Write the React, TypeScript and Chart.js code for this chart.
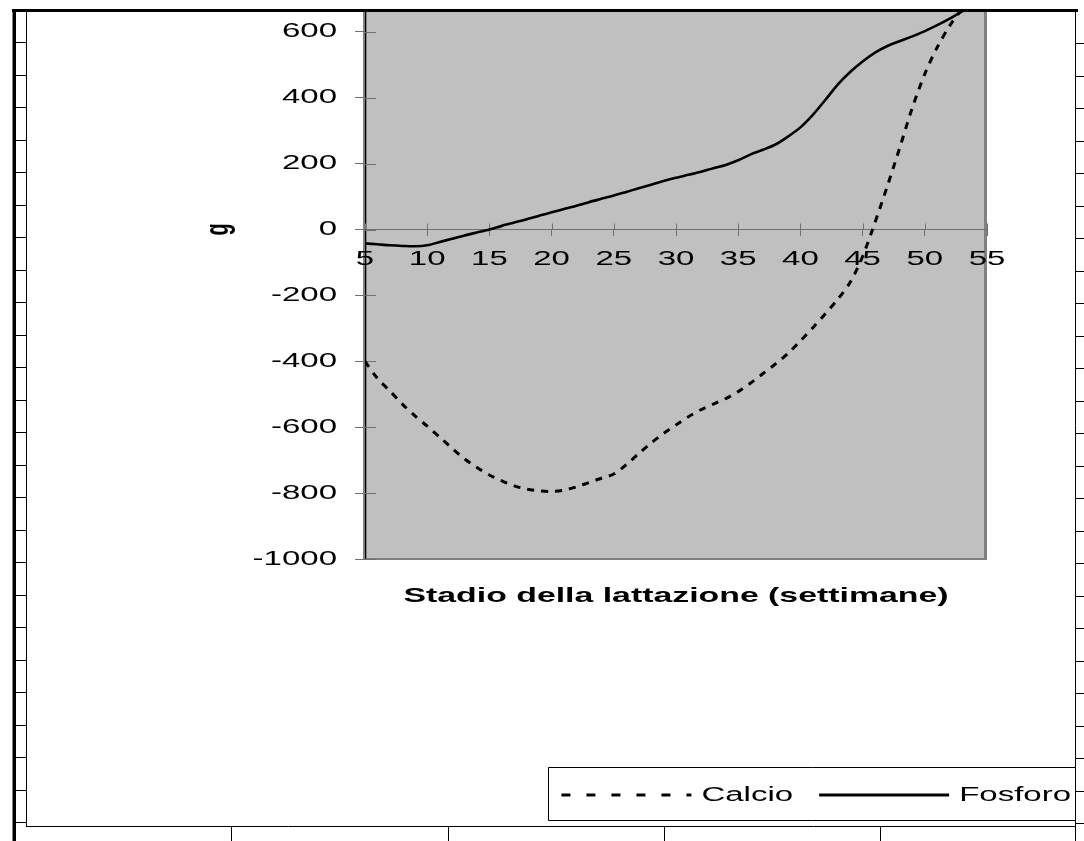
import React, { useEffect, useRef } from "react";
import { Chart, registerables } from "chart.js";

Chart.register(...registerables);

// ---- data (weeks of lactation, grams) ----
const WEEKS = [5, 6, 7, 8, 9, 10, 11, 12, 13, 14, 15, 16, 17, 18, 19, 20, 21, 22, 23, 24, 25, 26, 27, 28, 29, 30, 31, 32, 33, 34, 35, 36, 37, 38, 39, 40, 41, 42, 43, 44, 45, 46, 47, 48, 49, 50, 51, 52, 53, 54, 55];
const CALCIO = [-400, -452, -490, -530, -565, -597, -630, -664, -696, -722, -745, -763, -778, -788, -793, -795, -791, -781, -768, -755, -742, -714, -680, -648, -619, -593, -568, -547, -530, -513, -492, -466, -437, -408, -376, -338, -298, -256, -212, -160, -82, 22, 133, 250, 370, 472, 553, 618, 670, 718, 762];
const FOSFORO = [-42, -45, -48, -50, -51, -48, -38, -28, -18, -9, 0, 11, 21, 31, 42, 52, 62, 72, 83, 93, 103, 114, 125, 136, 147, 157, 166, 175, 186, 196, 210, 228, 242, 258, 282, 310, 348, 393, 440, 478, 510, 537, 557, 572, 586, 602, 620, 640, 662, 685, 708];
const SERIES_NAMES = ["Calcio", "Fosforo"];
const X_MIN = 5;
const X_MAX = 55;
const X_STEP = 5;
const Y_MIN = -1000;
const Y_MAX = 1000;
const Y_STEP = 200;
const X_TITLE = "Stadio della lattazione (settimane)";
const Y_TITLE = "g";

// ---- layout constants ----
const CANVAS_W = 1097;
const CANVAS_H = 971;
const OFF = 130; // canvas starts 130px above the visible page
const SX = 1.65; // horizontal stretch of all text

const FONT = "'Liberation Sans', Arial, sans-serif";

function patchContext(ctx: any) {
  const proto = (window as any).CanvasRenderingContext2D.prototype;
  ctx.fillText = function (text: string, x: number, y: number, maxWidth?: number) {
    const m = this.getTransform();
    const ax = m.a * x + m.c * y + m.e;
    this.save();
    this.setTransform(SX, 0, 0, 1, ax * (1 - SX), 0);
    this.transform(m.a, m.b, m.c, m.d, m.e, m.f);
    if (maxWidth === undefined || maxWidth === null) proto.fillText.call(this, text, x, y);
    else proto.fillText.call(this, text, x, y, maxWidth / SX);
    this.restore();
  };
  ctx.measureText = function (text: string) {
    const r = proto.measureText.call(this, text);
    return {
      width: r.width * SX,
      actualBoundingBoxLeft: r.actualBoundingBoxLeft * SX,
      actualBoundingBoxRight: r.actualBoundingBoxRight * SX,
      actualBoundingBoxAscent: r.actualBoundingBoxAscent,
      actualBoundingBoxDescent: r.actualBoundingBoxDescent,
      fontBoundingBoxAscent: r.fontBoundingBoxAscent,
      fontBoundingBoxDescent: r.fontBoundingBoxDescent,
    };
  };
}

function seg(ctx: CanvasRenderingContext2D, x1: number, y1: number, x2: number, y2: number) {
  ctx.beginPath();
  ctx.moveTo(x1, y1);
  ctx.lineTo(x2, y2);
  ctx.stroke();
}

const framePlugin = {
  id: "frame",
  beforeDraw(chart: any) {
    const { ctx, chartArea: a } = chart;
    ctx.save();
    ctx.fillStyle = "#ffffff";
    ctx.fillRect(0, 0, chart.width, chart.height);
    ctx.fillStyle = "#c0c0c0";
    ctx.fillRect(a.left, a.top, a.right - a.left, a.bottom - a.top);
    ctx.strokeStyle = "#808080";
    ctx.lineWidth = 4;
    seg(ctx, a.left, a.top, a.left, a.bottom + 1);
    ctx.lineWidth = 3;
    seg(ctx, a.right - 1.5, a.top, a.right - 1.5, a.bottom + 1);
    ctx.lineWidth = 2;
    seg(ctx, a.left, a.bottom, a.right, a.bottom);
    ctx.restore();
  },
  beforeDatasetsDraw(chart: any) {
    const { ctx, chartArea: a } = chart;
    const xs = chart.scales.x;
    const ys = chart.scales.y;
    const y0 = ys.getPixelForValue(0);
    ctx.save();
    ctx.strokeStyle = "#707070";
    ctx.lineWidth = 1;
    for (const t of xs.ticks) {
      const px = Math.round(xs.getPixelForValue(t.value)) + 0.5;
      seg(ctx, px, y0 - 6, px, y0);
    }
    for (const t of ys.ticks) {
      const py = Math.round(ys.getPixelForValue(t.value)) + 0.5;
      seg(ctx, a.left, py, a.left + 11, py);
    }
    ctx.restore();
  },
  afterDraw(chart: any) {
    const { ctx } = chart;
    const W = chart.width;
    const P = (y: number) => y + OFF; // page y -> canvas y
    ctx.save();
    // legend frame
    const lg = chart.legend;
    if (lg && lg.legendHitBoxes && lg.legendHitBoxes.length) {
      const left = Math.round(lg.legendHitBoxes[0].left - 13) + 0.5;
      const cy = lg.top + 36;
      const top = Math.round(cy - 28) + 0.5;
      const bot = Math.round(cy + 25) + 0.5;
      ctx.strokeStyle = "#000";
      ctx.lineWidth = 1;
      ctx.beginPath();
      ctx.moveTo(1076, top);
      ctx.lineTo(left, top);
      ctx.lineTo(left, bot);
      ctx.lineTo(1076, bot);
      ctx.stroke();
    }
    // white outside the page frame
    ctx.fillStyle = "#ffffff";
    ctx.fillRect(0, 0, W, P(9));
    ctx.fillRect(1076, 0, W - 1076, chart.height);
    ctx.fillRect(0, 0, 12, chart.height);
    // top thick line & left thick bar
    ctx.fillStyle = "#000";
    ctx.fillRect(12, P(9), 1066, 3);
    ctx.fillRect(12.5, P(9), 3.5, 841 - 9);
    ctx.strokeStyle = "#000";
    ctx.lineWidth = 1;
    // left thin line
    seg(ctx, 26.5, P(12), 26.5, P(826));
    // bottom thin line
    seg(ctx, 26, P(826.5), 1076, P(826.5));
    // right thin line
    seg(ctx, 1075.5, P(10), 1075.5, P(841));
    // left ruler marks
    for (let k = 0; k < 25; k++) {
      const y = Math.round(42 + 32.5 * k) + 0.5;
      if (y < 826) seg(ctx, 16, P(y), 26.5, P(y));
    }
    // right ruler marks
    for (let k = 0; k < 25; k++) {
      const y = Math.round(43 + 32.5 * k) + 0.5;
      seg(ctx, 1075.5, P(y), 1084, P(y));
    }
    // bottom ruler marks
    for (const x of [231.5, 448.5, 664.5, 880.5]) seg(ctx, x, P(826), x, P(841));
    ctx.restore();
  },
};

export default function App() {
  const ref = useRef<HTMLCanvasElement | null>(null);

  useEffect(() => {
    const canvas = ref.current;
    if (!canvas) return;
    const ctx = canvas.getContext("2d");
    patchContext(ctx);
    Chart.defaults.font.family = FONT;

    const chart = new Chart(canvas, {
      type: "line",
      data: {
        datasets: [
          {
            label: SERIES_NAMES[0],
            data: WEEKS.map((w, i) => ({ x: w, y: CALCIO[i] })),
            borderColor: "#000",
            backgroundColor: "#000",
            borderWidth: 3,
            borderDash: [7, 7],
            pointRadius: 0,
            tension: 0.3,
            xAxisID: "x",
            yAxisID: "y",
          },
          {
            label: SERIES_NAMES[1],
            data: WEEKS.map((w, i) => ({ x: w, y: FOSFORO[i] })),
            borderColor: "#000",
            backgroundColor: "#000",
            borderWidth: 2.6,
            pointRadius: 0,
            tension: 0.3,
            xAxisID: "x",
            yAxisID: "y",
          },
        ],
      },
      plugins: [framePlugin],
      options: {
        animation: false,
        responsive: false,
        devicePixelRatio: 1,
        layout: { padding: { top: 29, left: 0, right: 0, bottom: 26 } },
        plugins: {
          tooltip: { enabled: false },
          title: { display: false },
          legend: {
            position: "bottom",
            align: "end",
            labels: {
              usePointStyle: true,
              pointStyle: "line",
              pointStyleWidth: 130,
              padding: 26,
              color: "#000",
              font: { size: 20, family: FONT },
              generateLabels(ch: any) {
                const items = Chart.defaults.plugins.legend.labels.generateLabels(ch);
                return items.map((it: any, i: number) => ({
                  ...it,
                  pointStyle: "line",
                  lineDash: i === 0 ? [9, 16] : [],
                  lineWidth: 3,
                  strokeStyle: "#000",
                  fillStyle: "#000",
                }));
              },
            },
          },
        },
        scales: {
          x: {
            type: "linear",
            position: { y: 0 },
            min: X_MIN,
            max: X_MAX,
            ticks: {
              stepSize: X_STEP,
              autoSkip: false,
              maxRotation: 0,
              minRotation: 0,
              padding: 12,
              color: "#000",
              font: { size: 20, family: FONT },
              callback: (v: any) => String(v),
            },
            grid: { drawOnChartArea: false, drawTicks: true, tickLength: 6, color: "#707070", lineWidth: 1 },
            border: { display: true, color: "#707070", width: 1 },
          },
          xt: {
            type: "linear",
            position: "bottom",
            min: X_MIN,
            max: X_MAX,
            ticks: { display: false },
            grid: { display: false, drawTicks: false },
            border: { display: false },
            title: {
              display: true,
              text: X_TITLE,
              color: "#000",
              font: { size: 20.5, weight: "bold", family: FONT },
              padding: { top: 0, bottom: 150 },
            },
            afterFit: (s: any) => {
              s.height = 200;
            },
          },
          y: {
            type: "linear",
            position: "left",
            min: Y_MIN,
            max: Y_MAX,
            ticks: {
              stepSize: Y_STEP,
              padding: 18,
              color: "#000",
              font: { size: 20, family: FONT },
              callback: (v: any) => String(v),
            },
            grid: { drawOnChartArea: false, drawTicks: true, tickLength: 10, color: "#707070", lineWidth: 1 },
            border: { display: true, color: "#000", width: 1 },
            title: {
              display: true,
              text: Y_TITLE,
              color: "#000",
              font: { size: 20, weight: "bold", family: FONT },
              padding: { top: 207, bottom: 0 },
            },
            afterFit: (s: any) => {
              s.width = 365;
            },
          },
          yr: {
            type: "linear",
            position: "right",
            min: Y_MIN,
            max: Y_MAX,
            ticks: { display: false },
            grid: { display: false, drawTicks: false },
            border: { display: false },
            afterFit: (s: any) => {
              s.width = 110;
            },
          },
        },
      } as any,
    });
    return () => chart.destroy();
  }, []);

  return (
    <div
      style={{
        position: "fixed",
        left: 0,
        top: 0,
        width: 1084,
        height: 841,
        overflow: "hidden",
        background: "#fff",
      }}
    >
      <canvas
        ref={ref}
        width={CANVAS_W}
        height={CANVAS_H}
        style={{ position: "absolute", left: 0, top: -OFF, display: "block" }}
      />
    </div>
  );
}
